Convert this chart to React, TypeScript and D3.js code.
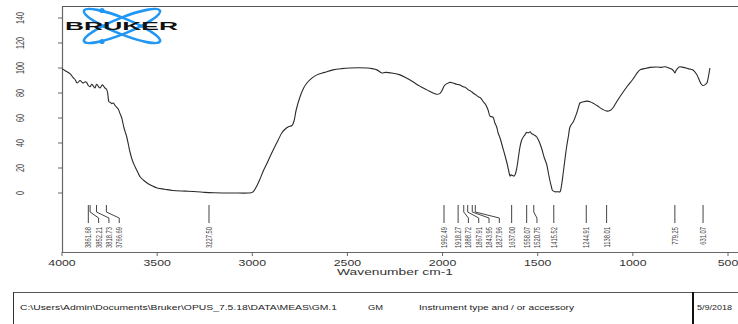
import { useEffect, useRef } from 'react';
import * as d3 from 'd3';

// spectrum: wavenumber (cm-1) and transmittance (%)
const WAVENUMBERS = [
  4000, 3985, 3958, 3940, 3932, 3920, 3905, 3895, 3888, 3878, 3870, 3862, 3853, 3844, 3835, 3827,
  3818, 3808, 3800, 3788, 3774, 3766, 3760, 3753, 3745, 3739, 3730, 3721, 3712, 3704, 3695, 3686,
  3680, 3674, 3666, 3660, 3650, 3643, 3630, 3616, 3600, 3590, 3570, 3553, 3530, 3500, 3460, 3417,
  3350, 3291, 3250, 3200, 3100, 3020, 3000, 2990, 2975, 2960, 2944, 2925, 2907, 2885, 2865, 2845,
  2828, 2810, 2791, 2780, 2770, 2749, 2730, 2713, 2690, 2660, 2620, 2576, 2530, 2487, 2440, 2397,
  2370, 2345, 2330, 2318, 2300, 2260, 2224, 2190, 2156, 2120, 2082, 2050, 2030, 2015, 2003, 1990,
  1977, 1961, 1945, 1926, 1910, 1891, 1880, 1865, 1852, 1839, 1825, 1812, 1800, 1786, 1775, 1768,
  1760, 1751, 1742, 1734, 1725, 1716, 1708, 1698, 1685, 1672, 1660, 1650, 1645, 1640, 1632, 1625,
  1618, 1610, 1602, 1593, 1585, 1575, 1567, 1558, 1550, 1540, 1532, 1520, 1506, 1495, 1480, 1465,
  1453, 1444, 1436, 1428, 1422, 1410, 1395, 1383, 1375, 1366, 1356, 1348, 1338, 1330, 1313, 1295,
  1285, 1278, 1260, 1240, 1225, 1205, 1189, 1160, 1136, 1120, 1105, 1085, 1068, 1050, 1031, 1000,
  980, 963, 940, 910, 873, 850, 831, 810, 795, 785, 779, 773, 760, 753, 735, 710,
  684, 665, 650, 640, 632, 622, 611, 603, 595,
];
const TRANSMITTANCE = [
  99.5, 98, 95.5, 92, 91, 88, 90, 88.5, 88, 89, 88.3, 86, 85, 87, 85.5, 84,
  87, 85, 84, 86.5, 84, 83, 80, 73, 72.5, 71.5, 72, 70, 68.5, 67, 63.5, 60,
  56, 52, 48, 45, 38, 33, 26, 21, 16, 13, 10, 8, 6, 4, 3, 2,
  1.5, 1, 0.5, 0.2, 0, 0, 0.5, 2, 6, 11, 17, 23, 29, 36, 42, 48,
  51, 53, 54, 58, 66, 77, 84, 88, 91.5, 94.5, 96.5, 98.5, 99.5, 100, 100.2, 100,
  99.5, 98.5, 97, 96, 96.5, 95.8, 94.5, 92, 89, 85.5, 82.5, 80, 79, 79.5, 82, 86,
  87.5, 88.5, 88, 87, 86.5, 85, 84.5, 82.5, 81.5, 80, 78.5, 77, 76, 73, 71, 69,
  66, 61.5, 61, 60.5, 56, 53, 48, 44, 37, 30, 23, 16, 13.5, 14.5, 14, 13.5,
  15, 20, 28, 37, 42, 45, 46.5, 48.5, 48, 49, 47.5, 46.5, 45, 42, 36, 28,
  23, 16, 10, 5, 2, 1, 1, 1, 6, 16, 28, 37, 46, 53, 57, 64,
  69, 72, 73, 73.5, 73, 71.5, 70, 67, 65.5, 66, 68, 73, 77, 81, 85, 91,
  95.5, 98.5, 99.5, 100.5, 100.8, 100.5, 101, 100, 99, 97.5, 96, 98, 100.5, 101, 100.5, 99.5,
  98.4, 95, 90, 87, 86, 86.5, 88, 93, 100,
];

const PEAKS = [
  3861.68, 3852.21, 3818.73, 3766.69, 3227.5, 1992.49, 1918.27, 1888.72, 1867.91, 1843.95,
  1827.96, 1637.0, 1558.07, 1520.75, 1415.52, 1244.91, 1138.01, 779.25, 631.07,
];

const X_TICKS = [4000, 3500, 3000, 2500, 2000, 1500, 1000, 500];
const Y_TICKS = [0, 20, 40, 60, 80, 100, 120, 140];

const FOOTER_PATH = 'C:\\Users\\Admin\\Documents\\Bruker\\OPUS_7.5.18\\DATA\\MEAS\\GM.1';
const FOOTER_SAMPLE = 'GM';
const FOOTER_INSTRUMENT = 'Instrument type and / or accessory';
const FOOTER_DATE = '5/9/2018';

const FONT = "'Liberation Sans', Arial, sans-serif";
const SX = 1.45; // the picture is stretched sideways

export default function App() {
  const svgRef = useRef<SVGSVGElement>(null);

  useEffect(() => {
    if (!svgRef.current) return;
    const width = 738;
    const height = 324;
    const left = 62;
    const top = 6;
    const bottom = 252;

    const svg = d3.select(svgRef.current);
    svg.selectAll('*').remove();
    svg.attr('width', width).attr('height', height);

    const x = d3.scaleLinear().domain([4000, 500]).range([62, 728]);
    const y = d3.scaleLinear().domain([0, 140]).range([193, 18]);

    // frame
    svg.append('line')
      .attr('x1', left).attr('x2', width).attr('y1', top + 0.5).attr('y2', top + 0.5)
      .attr('stroke', '#555').attr('stroke-width', 1);
    svg.append('line')
      .attr('x1', left + 0.5).attr('x2', left + 0.5).attr('y1', top).attr('y2', bottom)
      .attr('stroke', '#666').attr('stroke-width', 1.2);
    svg.append('line')
      .attr('x1', left).attr('x2', width).attr('y1', bottom + 0.5).attr('y2', bottom + 0.5)
      .attr('stroke', '#666').attr('stroke-width', 1.2);

    // y ticks
    const yAxis = svg.append('g');
    Y_TICKS.forEach(v => {
      yAxis.append('line')
        .attr('x1', left - 4).attr('x2', left).attr('y1', y(v)).attr('y2', y(v))
        .attr('stroke', '#666');
      yAxis.append('text')
        .attr('transform', `translate(20,${y(v)}) scale(${SX},1) rotate(-90)`)
        .attr('text-anchor', 'middle')
        .attr('dy', '0.35em')
        .attr('font-family', FONT)
        .attr('font-size', 7.2)
        .attr('fill', '#444')
        .text(v);
    });

    // x ticks
    const xAxis = svg.append('g');
    X_TICKS.forEach(v => {
      xAxis.append('line')
        .attr('x1', x(v)).attr('x2', x(v)).attr('y1', bottom).attr('y2', bottom + 4)
        .attr('stroke', '#666');
      xAxis.append('text')
        .attr('transform', `translate(${x(v)},266) scale(${SX},1)`)
        .attr('text-anchor', 'middle')
        .attr('font-family', FONT)
        .attr('font-size', 8.5)
        .attr('fill', '#333')
        .text(v);
    });
    svg.append('text')
      .attr('transform', `translate(${(x(4000) + x(500)) / 2},275) scale(${SX},1)`)
      .attr('text-anchor', 'middle')
      .attr('font-family', FONT)
      .attr('font-size', 9.5)
      .attr('fill', '#333')
      .text('Wavenumber cm-1');

    // spectrum
    const pts: [number, number][] = WAVENUMBERS.map((w, i) => [w, TRANSMITTANCE[i]]);
    const line = d3.line<[number, number]>()
      .x(d => x(d[0]))
      .y(d => y(d[1]))
      .curve(d3.curveCatmullRom.alpha(0.5));
    svg.append('path')
      .datum(pts)
      .attr('fill', 'none')
      .attr('stroke', '#2a2a2a')
      .attr('stroke-width', 1.1)
      .attr('d', line);

    // peak labels, pushed apart so they do not overlap
    const gap = 10.3;
    const peakX = PEAKS.map(p => x(p));
    const labelX: number[] = [];
    peakX.forEach((px, i) => {
      labelX.push(i === 0 ? px : Math.max(px, labelX[i - 1] + gap));
    });
    const peaks = svg.append('g');
    PEAKS.forEach((p, i) => {
      const px = peakX[i];
      const lx = labelX[i];
      const path = Math.abs(lx - px) < 0.5
        ? `M${px},205V223`
        : `M${px},205V212L${lx},218V223`;
      peaks.append('path')
        .attr('d', path)
        .attr('fill', 'none')
        .attr('stroke', '#444')
        .attr('stroke-width', 1);
      peaks.append('text')
        .attr('transform', `translate(${lx},227) scale(${SX},1) rotate(-90)`)
        .attr('text-anchor', 'end')
        .attr('dy', '0.35em')
        .attr('font-family', FONT)
        .attr('font-size', 5.8)
        .attr('fill', '#444')
        .text(p.toFixed(2));
    });

    // logo
    const logo = svg.append('g').attr('transform', 'translate(122,26)');
    [22, -22].forEach(a => {
      logo.append('ellipse')
        .attr('rx', 41).attr('ry', 8)
        .attr('transform', `rotate(${a})`)
        .attr('fill', 'none')
        .attr('stroke', '#2196f3')
        .attr('stroke-width', 2.6);
    });
    [[-20, -15.5], [-20, 15.5]].forEach(([cx, cy]) => {
      logo.append('circle').attr('cx', cx).attr('cy', cy).attr('r', 2.6).attr('fill', '#2196f3');
    });
    logo.append('text')
      .attr('x', -57)
      .attr('y', 4)
      .attr('textLength', 113)
      .attr('lengthAdjust', 'spacingAndGlyphs')
      .attr('font-family', FONT)
      .attr('font-weight', 900)
      .attr('font-size', 11.5)
      .attr('fill', '#111')
      .text('BRUKER');

    // footer box
    const foot = svg.append('g');
    foot.append('line')
      .attr('x1', 13).attr('x2', width).attr('y1', 292.5).attr('y2', 292.5)
      .attr('stroke', '#555');
    foot.append('line')
      .attr('x1', 13.5).attr('x2', 13.5).attr('y1', 292).attr('y2', height)
      .attr('stroke', '#333');
    foot.append('line')
      .attr('x1', 693).attr('x2', 693).attr('y1', 292).attr('y2', height)
      .attr('stroke', '#111').attr('stroke-width', 2);
    const footText = [
      { t: FOOTER_PATH, x: 20, w: 317 },
      { t: FOOTER_SAMPLE, x: 368, w: 15 },
      { t: FOOTER_INSTRUMENT, x: 419, w: 155 },
      { t: FOOTER_DATE, x: 697, w: 35 },
    ];
    footText.forEach(d => {
      foot.append('text')
        .attr('x', d.x)
        .attr('y', 310)
        .attr('textLength', d.w)
        .attr('lengthAdjust', 'spacingAndGlyphs')
        .attr('font-family', FONT)
        .attr('font-size', 7.8)
        .attr('fill', '#222')
        .text(d.t);
    });
  }, []);

  return (
    <>
      <style>{'body{margin:0}'}</style>
      <svg ref={svgRef} style={{ display: 'block' }} />
    </>
  );
}
